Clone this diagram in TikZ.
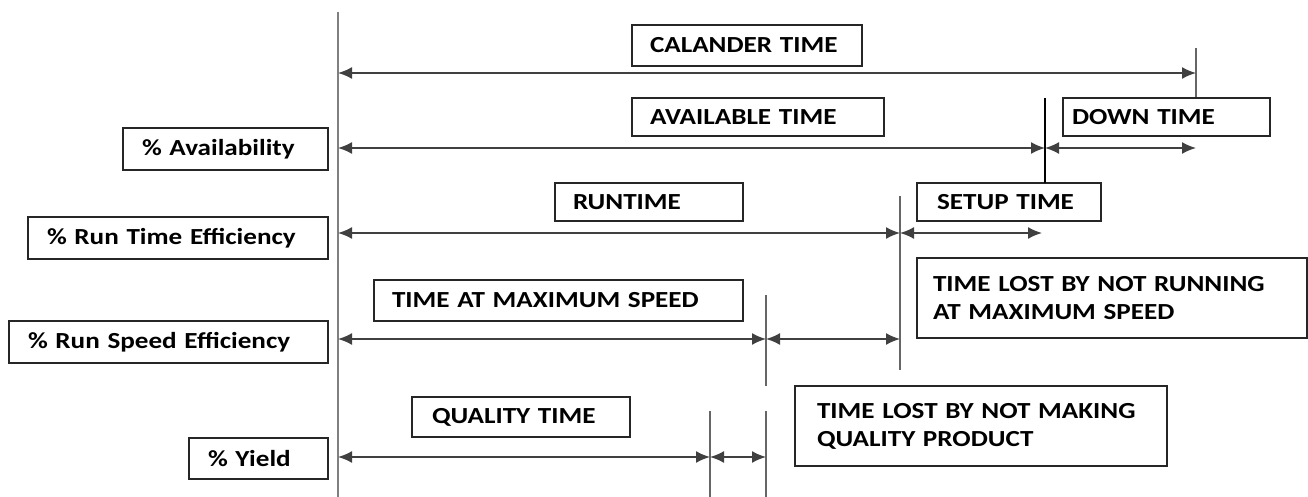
\documentclass[tikz,border=0pt]{standalone}
\usepackage{fontspec}
\setmainfont{Carlito}[FakeStretch=1.18,WordSpace=0.6]
\usetikzlibrary{arrows.meta}
\begin{document}
\begin{tikzpicture}[x=1pt,y=-1pt,
  lbl/.style={draw=black!85, line width=1.3pt, inner ysep=0pt, inner xsep=18pt, align=left,
    font=\fontsize{23}{28}\selectfont\bfseries},
  dim/.style={draw=black!75, line width=1.7pt},
  darr/.style={dim, {Latex[length=14pt,width=12pt]}-{Latex[length=14pt,width=12pt]}},
  axis/.style={draw=black!50, line width=2.6pt},
  tick/.style={draw=black!60, line width=1.8pt},
  tickb/.style={draw=black, line width=1.3pt}]
\useasboundingbox (0,0) rectangle (1308,497);
% boxes
\node[lbl, text width=194pt, minimum height=41pt] (cal) at (747,45.5) {CALANDER TIME};
\node[lbl, text width=216pt, minimum height=38pt] (avail) at (758,117) {AVAILABLE TIME};
\node[lbl, inner xsep=9pt, text width=189pt, minimum height=38pt] (down) at (1166.5,117) {DOWN TIME};
\node[lbl, text width=152pt, minimum height=38pt] (run) at (649,202) {RUNTIME};
\node[lbl, inner xsep=20pt, text width=144pt, minimum height=38pt] (setup) at (1009,202) {SETUP TIME};
\node[lbl, inner xsep=16pt, text width=358pt, minimum height=80pt] (lostrun) at (1112,298) {TIME LOST BY NOT RUNNING\\AT MAXIMUM SPEED};
\node[lbl, text width=333pt, minimum height=41pt] (maxsp) at (558.5,300.5) {TIME AT MAXIMUM SPEED};
\node[lbl, inner xsep=20pt, text width=178pt, minimum height=40pt] (qual) at (521,417) {QUALITY TIME};
\node[lbl, inner xsep=22pt, text width=328pt, minimum height=80pt] (lostq) at (981,426) {TIME LOST BY NOT MAKING\\QUALITY PRODUCT};
\node[lbl, inner xsep=19pt, text width=167pt, minimum height=42pt] (pavail) at (225.5,149) {\% Availability};
\node[lbl, inner xsep=19pt, text width=262pt, minimum height=42pt] (prun) at (178,238) {\% Run Time Efficiency};
\node[lbl, inner xsep=19pt, text width=281pt, minimum height=42pt] (pspeed) at (168.5,342) {\% Run Speed Efficiency};
\node[lbl, inner xsep=19pt, text width=101pt, minimum height=41pt] (pyield) at (258.5,458.5) {\% Yield};
% tick coordinates
\coordinate (a0) at (338,12);
\coordinate (a1) at (338,497);
\coordinate (c0) at (1196,48);
\coordinate (c1) at (1196,97);
\coordinate (v0) at (1045,98);
\coordinate (v1) at (1045,183);
\coordinate (r0) at (900,196);
\coordinate (r1) at (900,370);
\coordinate (m0) at (766,295);
\coordinate (m1) at (766,386);
\coordinate (q0) at (710,411);
\coordinate (q1) at (710,497);
\coordinate (k0) at (766,411);
\coordinate (k1) at (766,497);
% arrow ends
\coordinate (L1) at (338,73);   \coordinate (R1) at (1196,73);
\coordinate (L2) at (338,148);  \coordinate (R2) at (1045,148); \coordinate (E2) at (1196,148);
\coordinate (L3) at (338,233);  \coordinate (R3) at (900,233);  \coordinate (E3) at (1042,233);
\coordinate (L4) at (338,339);  \coordinate (R4) at (766,339);  \coordinate (E4) at (900,339);
\coordinate (L5) at (338,457);  \coordinate (R5) at (710,457);  \coordinate (E5) at (766,457);
% ticks
\draw[axis] (a0) -- (a1);
\draw[tick] (c0) -- (c1);
\draw[tickb] (v0) -- (v1);
\draw[tick] (r0) -- (r1);
\draw[tick] (m0) -- (m1);
\draw[tick] (q0) -- (q1);
\draw[tick] (k0) -- (k1);
% arrows
\draw[darr] (L1) -- (R1);
\draw[darr] (L2) -- (R2);
\draw[darr] (R2) -- (E2);
\draw[darr] (L3) -- (R3);
\draw[darr] (R3) -- (E3);
\draw[darr] (L4) -- (R4);
\draw[darr] (R4) -- (E4);
\draw[darr] (L5) -- (R5);
\draw[darr] (R5) -- (E5);
\end{tikzpicture}
\end{document}
